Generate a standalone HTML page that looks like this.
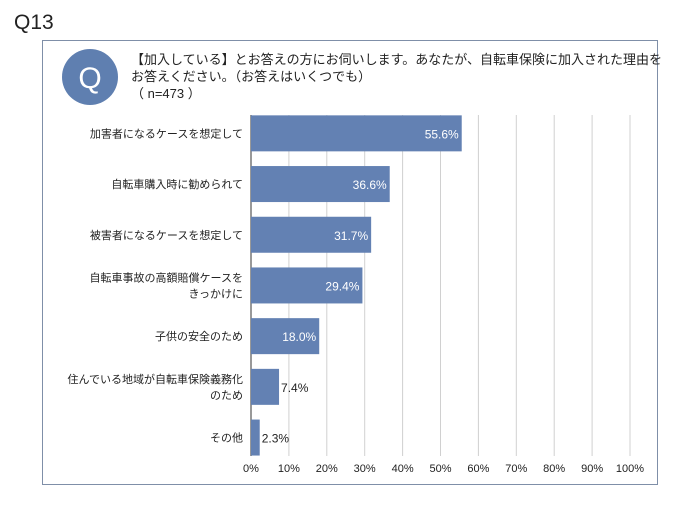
<!DOCTYPE html>
<html><head><meta charset="utf-8"><style>
body{margin:0;background:#fff;font-family:"Liberation Sans","Noto Sans CJK JP",sans-serif;}
#wrap{position:relative;width:700px;height:525px;overflow:hidden}
</style></head><body>
<div id="wrap">
<svg width="700" height="525" id="svg">
<text x="14" y="29" font-size="21" fill="#222">Q13</text>
<rect x="42.5" y="40.5" width="615" height="444" fill="#fff" stroke="#7f8fa8" stroke-width="1"/>
<circle cx="90" cy="77" r="28" fill="#5f7fb0"/>
<text x="90" y="88" font-size="30" fill="#fff" text-anchor="middle">Q</text>
<g font-size="13" fill="#222">
<text x="131" y="64">【加入している】とお答えの方にお伺いします。あなたが、自転車保険に加入された理由を</text>
<text x="131" y="81">お答えください。（お答えはいくつでも）</text>
<text x="131" y="98">（ n=473 ）</text>
</g>
<g id="grid"></g><g id="bars"></g><g id="labels"></g><g id="ticks"></g>
</svg>
<script>
const categories=[["加害者になるケースを想定して"],["自転車購入時に勧められて"],["被害者になるケースを想定して"],["自転車事故の高額賠償ケースを","きっかけに"],["子供の安全のため"],["住んでいる地域が自転車保険義務化","のため"],["その他"]];
const values=[55.6,36.6,31.7,29.4,18.0,7.4,2.3];
const tickLabels=["0%","10%","20%","30%","40%","50%","60%","70%","80%","90%","100%"];
const NS="http://www.w3.org/2000/svg";
const x0=251,x1=630,topY=108,band=50.7,bh=36;
const xs=v=>x0+(x1-x0)*v/100;
const yc=i=>topY+band*(i+0.5);
function mk(t,a,p){const e=document.createElementNS(NS,t);for(const k in a)e.setAttribute(k,a[k]);document.getElementById(p).appendChild(e);return e;}
tickLabels.forEach((t,i)=>{
 const x=xs(i*10);
 const l=mk('line',{x1:x,x2:x,y1:115,y2:456,stroke:i==0?'#333':'#d0d0d0','stroke-width':1},'grid');
 
 
 const tx=mk('text',{x:x,y:472,'font-size':11,'text-anchor':'middle',fill:'#222'},'ticks');
 tx.textContent=t;
 
 
});
values.forEach((v,i)=>{
 const y=yc(i);
 const r=mk('rect',{x:x0,y:y-bh/2,width:xs(v)-x0,height:bh,fill:'#6381b3'},'bars');
 
 
 const inside=v>15;
 const t=mk('text',{x:inside?xs(v)-3:xs(v)+2,y:y+5,'font-size':12,'text-anchor':inside?'end':'start',fill:inside?'#fff':'#222'},'labels');
 t.textContent=v.toFixed(1)+'%';
 
 
 const c=categories[i];
 c.forEach((s,j)=>{
  const ct=mk('text',{x:243,y:y+4+(j-(c.length-1)/2)*16,'font-size':11,'text-anchor':'end',fill:'#222'},'labels');
  ct.textContent=s;
  
  
 });
});
</script>
</div></body></html>
